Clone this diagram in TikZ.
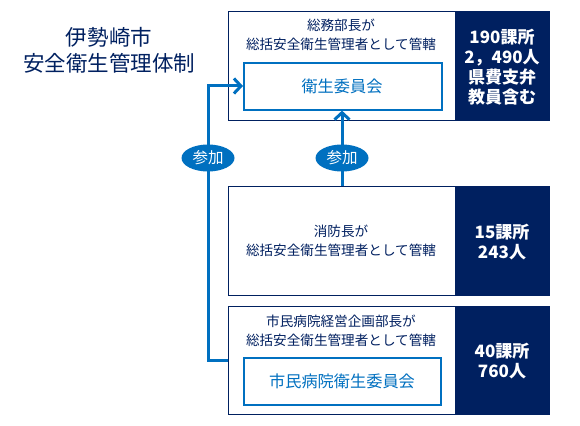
\documentclass[tikz,border=0pt]{standalone}
\usepackage{fontspec}
\usetikzlibrary{arrows.meta,shapes.geometric}
\newfontfamily\jp{Noto Sans CJK JP}
\definecolor{navy}{HTML}{002060}
\definecolor{mblue}{HTML}{0070C0}
\tikzset{
  whitebox/.style={draw=navy, line width=1.2pt, fill=white, minimum width=227pt, anchor=north west, inner sep=0pt},
  darkbox/.style={draw=navy, line width=1.2pt, fill=navy, minimum width=94pt, anchor=north west, inner sep=0pt},
  innerbox/.style={draw=mblue, line width=1.6pt, fill=white, anchor=north west, inner sep=0pt},
  innertext/.style={text=mblue, font=\jp\fontsize{16.2}{18}\selectfont, inner sep=0pt},
  lbl/.style={text=navy, align=center, font=\jp\fontsize{13.6}{19}\selectfont, inner sep=0pt},
  darklbl/.style={text=white, align=center, font=\jp\bfseries\fontsize{17}{20}\selectfont, inner sep=0pt},
  title/.style={text=navy, align=center, font=\jp\fontsize{21.5}{26}\selectfont, inner sep=0pt},
  tag/.style={ellipse, fill=mblue, text=white, minimum width=53pt, minimum height=27pt, inner sep=0pt, font=\jp\fontsize{15.5}{17}\selectfont},
  conn/.style={draw=mblue, line width=3pt},
  tip/.style={-{Straight Barb[length=7pt,width=15pt,line width=3pt]}}
}
\begin{document}
\begin{tikzpicture}[x=1pt,y=-1pt]
\useasboundingbox (0,0) rectangle (580,425);
% title
\node[title] (ttl) at (109,50) {伊勢崎市\\安全衛生管理体制};
% box 1
\node[whitebox, minimum height=109pt] (b1) at (228,11) {};
\node[darkbox, minimum height=109pt] (d1) at (455,11) {};
\node[lbl] (t1) at (341,35) {総務部長が\\総括安全衛生管理者として管轄};
\node[innerbox, minimum width=198pt, minimum height=47pt] (in1) at (243,62) {};
\node[innertext] (in1t) at (342,86) {衛生委員会};
\node[darklbl] (dt1) at (502,67) {190課所\\2，490人\\県費支弁\\教員含む};
% box 2
\node[whitebox, minimum height=109pt] (b2) at (228,186) {};
\node[darkbox, minimum height=109pt] (d2) at (455,186) {};
\node[lbl] (t2) at (341,241) {消防長が\\総括安全衛生管理者として管轄};
\node[darklbl] (dt2) at (502,242) {15課所\\243人};
% box 3
\node[whitebox, minimum height=108pt] (b3) at (228,306) {};
\node[darkbox, minimum height=108pt] (d3) at (455,306) {};
\node[lbl] (t3) at (341,331) {市民病院経営企画部長が\\総括安全衛生管理者として管轄};
\node[innerbox, minimum width=197pt, minimum height=47pt] (in3) at (243,357) {};
\node[innertext] (in3t) at (342,381) {市民病院衛生委員会};
\node[darklbl] (dt3) at (502,361) {40課所\\760人};
% connectors
\coordinate (j1) at (208,360);
\coordinate (j2) at (208,86);
\coordinate (mx) at (342,158);
\draw[conn, tip] (b3.west |- j1) -- (j1) -- (j2) -- (in1.west |- j2);
\draw[conn, tip] (b2.north -| mx) -- (in1.south -| mx);
\node[tag] (tagl) at (208,158) {参加};
\node[tag] (tagm) at (mx) {参加};
\end{tikzpicture}
\end{document}
